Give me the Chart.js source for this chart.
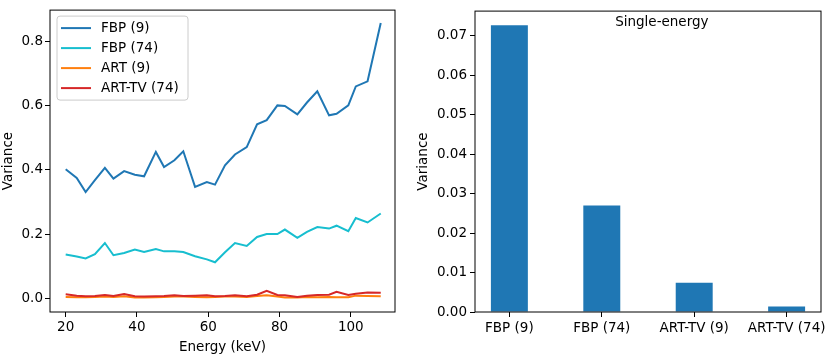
<!DOCTYPE html>
<html lang="en">
<head>
  <meta charset="UTF-8">
  <title>Variance vs energy</title>
  <script src="https://cdn.jsdelivr.net/npm/chart.js"></script>
  <style>
    body { margin: 0; background: #fff; }
    #wrap { position: relative; width: 831px; height: 360px; }
    canvas { position: absolute; top: 0; }
    #lineChart { left: 0; }
    #barChart { left: 415px; }
  </style>
</head>
<body>
  <div id="wrap">
    <canvas id="lineChart" width="415" height="360"></canvas>
    <canvas id="barChart" width="416" height="360"></canvas>
  </div>

  <script>
    // energies (keV)
    const energies = [20.0, 23.1, 25.6, 28.2, 31.0, 33.4, 36.4, 39.4, 42.0, 45.3, 47.6, 50.5, 53.0, 56.3, 59.6, 61.9,
                      64.7, 67.5, 70.8, 73.7, 76.4, 79.4, 81.5, 85.0, 87.7, 90.6, 93.9, 96.0, 99.3, 101.4, 104.7, 108.4];

    const fbp9 = [0.402, 0.375, 0.331, 0.368, 0.406, 0.373, 0.396, 0.385, 0.380, 0.456, 0.409, 0.430, 0.458, 0.347, 0.362, 0.354,
                  0.414, 0.448, 0.471, 0.542, 0.555, 0.601, 0.599, 0.573, 0.610, 0.645, 0.570, 0.575, 0.601, 0.660, 0.676, 0.858];

    const fbp74 = [0.136, 0.130, 0.124, 0.137, 0.172, 0.134, 0.141, 0.152, 0.144, 0.153, 0.146, 0.146, 0.144, 0.131, 0.121, 0.112,
                   0.143, 0.172, 0.163, 0.191, 0.200, 0.200, 0.214, 0.188, 0.207, 0.222, 0.217, 0.226, 0.209, 0.250, 0.236, 0.264];

    const art9 = [0.004, 0.003, 0.003, 0.004, 0.005, 0.004, 0.006, 0.002, 0.002, 0.003, 0.004, 0.005, 0.005, 0.004, 0.003, 0.004,
                  0.005, 0.005, 0.004, 0.007, 0.009, 0.005, 0.002, 0.002, 0.004, 0.003, 0.004, 0.003, 0.003, 0.008, 0.007, 0.006];

    const artTv74 = [0.012, 0.008, 0.006, 0.007, 0.010, 0.007, 0.013, 0.006, 0.005, 0.006, 0.007, 0.009, 0.007, 0.008, 0.009, 0.006,
                     0.007, 0.009, 0.006, 0.011, 0.023, 0.010, 0.009, 0.004, 0.008, 0.010, 0.011, 0.020, 0.010, 0.014, 0.018, 0.017];

    // right panel
    const barLabels = ['FBP (9)', 'FBP (74)', 'ART-TV (9)', 'ART-TV (74)'];
    const barValues = [0.0727, 0.0270, 0.0074, 0.0014];

    const leftXTicks = [20, 40, 60, 80, 100];
    const leftYTicks = [0.0, 0.2, 0.4, 0.6, 0.8];
    const rightYTicks = [0.00, 0.01, 0.02, 0.03, 0.04, 0.05, 0.06, 0.07];

    const FONT = "13.5px 'DejaVu Sans'";
    Chart.defaults.font.family = "'DejaVu Sans', sans-serif";
    Chart.defaults.font.size = 13.5;
    Chart.defaults.color = '#000';

    // black box around the plot area, like matplotlib spines
    const frame = {
      id: 'frame',
      afterDatasetsDraw(chart) {
        const a = chart.chartArea, c = chart.ctx;
        c.save();
        c.strokeStyle = '#000';
        c.lineWidth = 1;
        c.strokeRect(a.left, a.top, a.right - a.left, a.bottom - a.top);
        c.restore();
      }
    };

    // legend box in the upper-left corner
    const boxLegend = {
      id: 'boxLegend',
      afterDraw(chart) {
        const a = chart.chartArea, c = chart.ctx;
        const x = a.left + 7, y = a.top + 6, w = 131, h = 84;
        c.save();
        c.fillStyle = 'rgba(255,255,255,0.8)';
        c.strokeStyle = '#ccc';
        c.lineWidth = 1;
        c.beginPath();
        c.roundRect(x, y, w, h, 3);
        c.fill();
        c.stroke();
        c.font = FONT;
        c.textBaseline = 'middle';
        chart.data.datasets.forEach((ds, i) => {
          const ry = a.top + 18 + i * 20;
          c.strokeStyle = ds.borderColor;
          c.lineWidth = 2;
          c.beginPath();
          c.moveTo(a.left + 11, ry);
          c.lineTo(a.left + 41, ry);
          c.stroke();
          c.fillStyle = '#000';
          c.fillText(ds.label, a.left + 51, ry);
        });
        c.restore();
      }
    };

    const panelText = {
      id: 'panelText',
      afterDraw(chart) {
        const a = chart.chartArea, c = chart.ctx;
        c.save();
        c.font = FONT;
        c.fillStyle = '#000';
        c.textAlign = 'center';
        c.textBaseline = 'middle';
        c.fillText('Single-energy', a.left + 0.54 * (a.right - a.left), a.top + 11);
        c.restore();
      }
    };

    const tickGrid = { display: true, drawOnChartArea: false, drawTicks: true, tickLength: 5, color: '#000', offset: false };

    function line(label, values, color, order) {
      return {
        label: label,
        data: values.map((v, i) => ({ x: energies[i], y: v })),
        borderColor: color,
        borderWidth: 2,
        pointRadius: 0,
        tension: 0,
        fill: false,
        order: order
      };
    }

    new Chart(document.getElementById('lineChart'), {
      type: 'line',
      data: {
        datasets: [
          line('FBP (9)', fbp9, '#1f77b4', 3),
          line('FBP (74)', fbp74, '#17becf', 2),
          line('ART (9)', art9, '#ff7f0e', 1),
          line('ART-TV (74)', artTv74, '#d62728', 0)
        ]
      },
      options: {
        responsive: false,
        animation: false,
        devicePixelRatio: 1,
        layout: { padding: { top: 10, right: 20, left: 0, bottom: 0 } },
        plugins: { legend: { display: false }, tooltip: { enabled: false } },
        scales: {
          x: {
            type: 'linear',
            min: 15.6,
            max: 112.4,
            border: { display: false },
            grid: tickGrid,
            afterBuildTicks: axis => { axis.ticks = leftXTicks.map(v => ({ value: v })); },
            afterFit: scale => { scale.height = 48; },
            ticks: { padding: 2, maxRotation: 0, callback: v => String(v) },
            title: { display: true, text: 'Energy (keV)', padding: { top: 0, bottom: 4 } }
          },
          y: {
            min: -0.043,
            max: 0.898,
            border: { display: false },
            grid: tickGrid,
            afterBuildTicks: axis => { axis.ticks = leftYTicks.map(v => ({ value: v })); },
            afterFit: scale => { scale.width = 50; },
            ticks: { padding: 2, callback: v => v.toFixed(1) },
            title: { display: true, text: 'Variance', padding: 0 }
          }
        }
      },
      plugins: [frame, boxLegend]
    });

    new Chart(document.getElementById('barChart'), {
      type: 'bar',
      data: {
        datasets: [{
          label: 'Single-energy',
          data: barValues.map((v, i) => ({ x: i, y: v })),
          backgroundColor: '#1f77b4',
          borderWidth: 0,
          barPercentage: 0.4,
          categoryPercentage: 1.0
        }]
      },
      options: {
        responsive: false,
        animation: false,
        devicePixelRatio: 1,
        layout: { padding: { top: 10, right: 10, left: 0, bottom: 0 } },
        plugins: { legend: { display: false }, tooltip: { enabled: false } },
        scales: {
          x: {
            type: 'linear',
            offset: false,
            min: -0.372,
            max: 3.372,
            border: { display: false },
            grid: tickGrid,
            afterBuildTicks: axis => { axis.ticks = barLabels.map((l, i) => ({ value: i })); },
            afterFit: scale => { scale.height = 48; },
            ticks: { padding: 3, maxRotation: 0, autoSkip: false, callback: v => barLabels[v] }
          },
          y: {
            min: 0,
            max: 0.0763,
            border: { display: false },
            grid: tickGrid,
            afterBuildTicks: axis => { axis.ticks = rightYTicks.map(v => ({ value: v })); },
            afterFit: scale => { scale.width = 60; },
            ticks: { padding: 3, callback: v => v.toFixed(2) },
            title: { display: true, text: 'Variance', padding: 0 }
          }
        }
      },
      plugins: [frame, panelText]
    });
  </script>
</body>
</html>
